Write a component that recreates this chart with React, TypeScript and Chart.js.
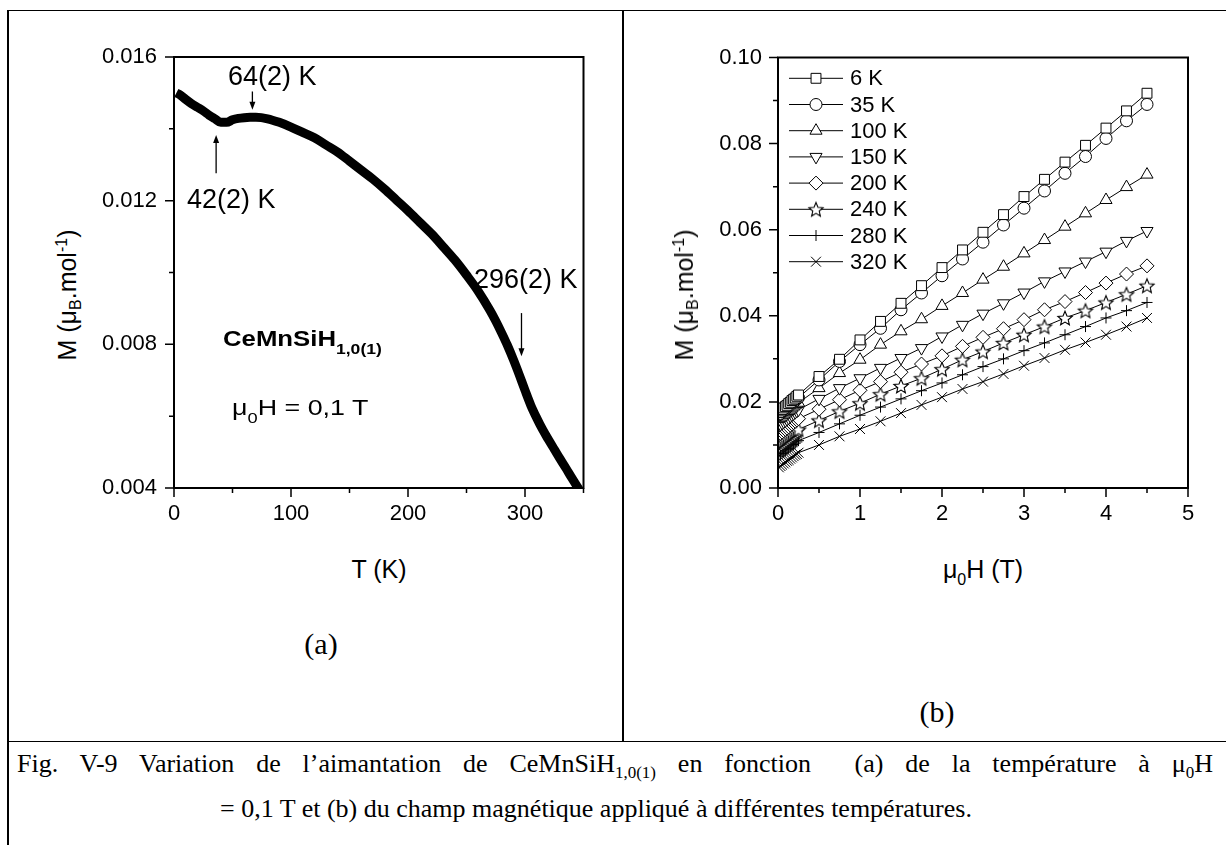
import React, { useEffect, useLayoutEffect, useRef } from 'react';
import { Chart, registerables, PointElement } from 'chart.js';

Chart.register(...registerables);

// ---------------- Panel (a): M vs T at mu0H = 0.1 T ----------------
const tempK = [2, 5, 10, 15, 20, 25, 30, 35, 40, 45, 50, 55, 60, 65, 70, 80, 90, 100, 110, 120, 130, 140, 150, 160, 170, 180, 190, 200, 210, 220, 230, 240, 250, 260, 270, 275, 280, 285, 290, 295, 300, 305, 310, 315, 320, 325, 330, 335, 340, 345, 350];
const magnetT = [0.01500, 0.01495, 0.01482, 0.01470, 0.01460, 0.01450, 0.01438, 0.01428, 0.01418, 0.01418, 0.01425, 0.01429, 0.01431, 0.01432, 0.01432, 0.01428, 0.01418, 0.01405, 0.01390, 0.01375, 0.01355, 0.01335, 0.01310, 0.01285, 0.01260, 0.01232, 0.01202, 0.01172, 0.01140, 0.01108, 0.01072, 0.01035, 0.00993, 0.00948, 0.00895, 0.00865, 0.00832, 0.00797, 0.00758, 0.00716, 0.00672, 0.00630, 0.00595, 0.00563, 0.00535, 0.00508, 0.00481, 0.00455, 0.00428, 0.00402, 0.00378];

const aXMajor = [0, 100, 200, 300];
const aXMinor = [50, 150, 250, 350];
const aYMajor = [0.004, 0.008, 0.012, 0.016];
const aYMinor = [0.006, 0.010, 0.014];

// arrows: temperature, from M, to M (tip)
const arrowT = [67, 36, 297];
const arrowFrom = [0.01504, 0.01276, 0.00887];
const arrowTo = [0.01453, 0.01383, 0.00767];

// ---------------- Panel (b): M vs mu0H at several temperatures ----------------
const fieldT = [0.01, 0.03, 0.05, 0.07, 0.09, 0.11, 0.13, 0.15, 0.17, 0.19, 0.21, 0.23, 0.25, 0.5, 0.75, 1.0, 1.25, 1.5, 1.75, 2.0, 2.25, 2.5, 2.75, 3.0, 3.25, 3.5, 3.75, 4.0, 4.25, 4.5];
const seriesLabels = ['6 K', '35 K', '100 K', '150 K', '200 K', '240 K', '280 K', '320 K'];
const m6K = [0.0175, 0.0179, 0.0182, 0.0186, 0.0189, 0.0192, 0.0196, 0.0199, 0.0203, 0.0206, 0.0209, 0.0213, 0.0216, 0.0259, 0.0299, 0.0344, 0.0387, 0.0429, 0.0470, 0.0512, 0.0553, 0.0594, 0.0635, 0.0677, 0.0717, 0.0757, 0.0796, 0.0836, 0.0876, 0.0917];
const m35K = [0.0170, 0.0173, 0.0177, 0.0180, 0.0183, 0.0187, 0.0190, 0.0193, 0.0197, 0.0200, 0.0203, 0.0207, 0.0210, 0.0251, 0.0294, 0.0333, 0.0371, 0.0414, 0.0453, 0.0493, 0.0532, 0.0571, 0.0611, 0.0650, 0.0690, 0.0731, 0.0770, 0.0812, 0.0853, 0.0891];
const m100K = [0.0160, 0.0163, 0.0166, 0.0170, 0.0173, 0.0176, 0.0179, 0.0182, 0.0185, 0.0189, 0.0192, 0.0195, 0.0198, 0.0232, 0.0267, 0.0298, 0.0333, 0.0364, 0.0392, 0.0423, 0.0453, 0.0484, 0.0514, 0.0545, 0.0576, 0.0607, 0.0638, 0.0669, 0.0699, 0.0728];
const m150K = [0.0145, 0.0148, 0.0151, 0.0154, 0.0157, 0.0160, 0.0163, 0.0167, 0.0170, 0.0173, 0.0176, 0.0179, 0.0182, 0.0207, 0.0232, 0.0255, 0.0279, 0.0302, 0.0325, 0.0352, 0.0379, 0.0405, 0.0429, 0.0454, 0.0480, 0.0503, 0.0526, 0.0549, 0.0574, 0.0597];
const m200K = [0.0124, 0.0127, 0.0130, 0.0133, 0.0136, 0.0139, 0.0142, 0.0146, 0.0149, 0.0152, 0.0155, 0.0158, 0.0161, 0.0183, 0.0205, 0.0227, 0.0247, 0.0269, 0.0288, 0.0307, 0.0329, 0.0350, 0.0370, 0.0391, 0.0414, 0.0433, 0.0454, 0.0476, 0.0497, 0.0516];
const m240K = [0.0100, 0.0103, 0.0106, 0.0109, 0.0112, 0.0115, 0.0118, 0.0121, 0.0124, 0.0127, 0.0130, 0.0133, 0.0136, 0.0157, 0.0178, 0.0197, 0.0218, 0.0237, 0.0255, 0.0276, 0.0298, 0.0317, 0.0337, 0.0356, 0.0375, 0.0395, 0.0412, 0.0431, 0.0450, 0.0470];
const m280K = [0.0074, 0.0077, 0.0080, 0.0083, 0.0086, 0.0089, 0.0092, 0.0095, 0.0098, 0.0101, 0.0104, 0.0107, 0.0110, 0.0129, 0.0149, 0.0169, 0.0188, 0.0207, 0.0226, 0.0244, 0.0263, 0.0282, 0.0300, 0.0319, 0.0337, 0.0356, 0.0375, 0.0395, 0.0412, 0.0431];
const m320K = [0.0048, 0.0051, 0.0054, 0.0057, 0.0060, 0.0063, 0.0065, 0.0068, 0.0071, 0.0074, 0.0077, 0.0079, 0.0082, 0.0100, 0.0120, 0.0137, 0.0155, 0.0174, 0.0193, 0.0211, 0.0230, 0.0247, 0.0265, 0.0284, 0.0302, 0.0321, 0.0338, 0.0356, 0.0375, 0.0395];
const seriesValues = [m6K, m35K, m100K, m150K, m200K, m240K, m280K, m320K];

const bXMajor = [0, 1, 2, 3, 4, 5];
const bXMinor = [0.5, 1.5, 2.5, 3.5, 4.5];
const bYMajor = [0, 0.02, 0.04, 0.06, 0.08, 0.10];
const bYMinor = [0.01, 0.03, 0.05, 0.07, 0.09];

const SANS = '"Liberation Sans", Arial, Helvetica, sans-serif';
const SERIF = '"Liberation Serif", "Times New Roman", Times, serif';

// ---------------- plugins ----------------
const frameTicksPlugin = {
  id: 'frameTicks',
  afterDraw(chart: any, _args: any, opts: any) {
    const { ctx, chartArea: a, scales } = chart;
    const xs = scales.x;
    const ys = scales.y;
    ctx.save();
    ctx.strokeStyle = '#000';
    ctx.lineWidth = 1.5;
    ctx.beginPath();
    for (const v of opts.xMajor) { const p = xs.getPixelForValue(v); ctx.moveTo(p, a.bottom); ctx.lineTo(p, a.bottom + 9); }
    for (const v of opts.xMinor) { const p = xs.getPixelForValue(v); ctx.moveTo(p, a.bottom); ctx.lineTo(p, a.bottom + 5); }
    for (const v of opts.yMajor) { const p = ys.getPixelForValue(v); ctx.moveTo(a.left, p); ctx.lineTo(a.left - 9, p); }
    for (const v of opts.yMinor) { const p = ys.getPixelForValue(v); ctx.moveTo(a.left, p); ctx.lineTo(a.left - 5, p); }
    ctx.stroke();
    ctx.lineWidth = 2;
    ctx.strokeRect(a.left, a.top, a.right - a.left, a.bottom - a.top);
    ctx.restore();
  },
};

const arrowsPlugin = {
  id: 'arrows',
  afterDatasetsDraw(chart: any, _args: any, opts: any) {
    const { ctx, scales } = chart;
    ctx.save();
    ctx.strokeStyle = '#000';
    ctx.fillStyle = '#000';
    ctx.lineWidth = 1.3;
    opts.t.forEach((t: number, i: number) => {
      const x = scales.x.getPixelForValue(t);
      const y0 = scales.y.getPixelForValue(opts.from[i]);
      const y1 = scales.y.getPixelForValue(opts.to[i]);
      const dir = y1 > y0 ? 1 : -1;
      ctx.beginPath();
      ctx.moveTo(x, y0);
      ctx.lineTo(x, y1 - dir * 6);
      ctx.stroke();
      ctx.beginPath();
      ctx.moveTo(x, y1);
      ctx.lineTo(x - 3, y1 - dir * 8);
      ctx.lineTo(x + 3, y1 - dir * 8);
      ctx.closePath();
      ctx.fill();
    });
    ctx.restore();
  },
};

const lineLegendPlugin = {
  id: 'lineLegend',
  afterDraw(chart: any, _args: any, opts: any) {
    const { ctx, chartArea: a } = chart;
    ctx.save();
    ctx.font = `22px ${SANS}`;
    ctx.textBaseline = 'middle';
    ctx.textAlign = 'left';
    chart.data.datasets.forEach((ds: any, i: number) => {
      const y = a.top + opts.top + i * opts.spacing;
      const x0 = a.left + opts.lineStart;
      const x1 = a.left + opts.lineEnd;
      ctx.strokeStyle = '#000';
      ctx.lineWidth = 1;
      ctx.beginPath();
      ctx.moveTo(x0, y);
      ctx.lineTo(x1, y);
      ctx.stroke();
      const el: any = new PointElement({} as any);
      el.x = (x0 + x1) / 2;
      el.y = y;
      el.skip = false;
      el.options = {
        pointStyle: ds.pointStyle,
        radius: ds.pointRadius,
        rotation: ds.pointRotation || 0,
        borderWidth: 1,
        borderColor: '#000',
        backgroundColor: '#fff',
      };
      el.draw(ctx);
      ctx.fillStyle = '#000';
      ctx.fillText(ds.label, a.left + opts.textX, y + 1);
    });
    ctx.restore();
  },
};

function makeStar(r: number) {
  const c = document.createElement('canvas');
  const s = 2 * Math.ceil(r + 2);
  c.width = s;
  c.height = s;
  const g = c.getContext('2d')!;
  g.translate(s / 2, s / 2 + r * 0.1);
  g.beginPath();
  for (let k = 0; k < 10; k++) {
    const rr = k % 2 === 0 ? r : r * 0.45;
    const ang = -Math.PI / 2 + (k * Math.PI) / 5;
    g.lineTo(rr * Math.cos(ang), rr * Math.sin(ang));
  }
  g.closePath();
  g.fillStyle = '#fff';
  g.fill();
  g.strokeStyle = '#000';
  g.lineWidth = 1.1;
  g.stroke();
  return c;
}

const tickFont = { size: 22, family: SANS };
const hiddenGrid = (len: number) => ({
  display: true,
  drawOnChartArea: false,
  drawTicks: true,
  tickLength: len,
  color: 'rgba(0,0,0,0)',
});

function configA() {
  return {
    type: 'line',
    data: {
      datasets: [
        {
          data: tempK.map((t, i) => ({ x: t, y: magnetT[i] })),
          borderColor: '#000',
          borderWidth: 9,
          pointRadius: 0,
          cubicInterpolationMode: 'monotone',
          borderJoinStyle: 'round',
          fill: false,
        },
      ],
    },
    options: {
      responsive: false,
      animation: false,
      devicePixelRatio: 1,
      layout: { padding: { top: 17, right: 16.5, left: 0, bottom: 0 } },
      scales: {
        x: {
          type: 'linear', min: 0, max: 350,
          grid: hiddenGrid(13), border: { display: false },
          ticks: { stepSize: 100, includeBounds: false, padding: 0, font: tickFont, color: '#000', maxRotation: 0, autoSkip: false, callback: (v: any) => String(v) },
          afterFit: (s: any) => { s.height = 52; },
        },
        y: {
          type: 'linear', min: 0.004, max: 0.016,
          grid: hiddenGrid(17), border: { display: false },
          ticks: { stepSize: 0.004, padding: 0, font: tickFont, color: '#000', autoSkip: false, callback: (v: any) => Number(v).toFixed(3) },
          afterFit: (s: any) => { s.width = 84; },
        },
      },
      plugins: {
        legend: { display: false },
        tooltip: { enabled: false },
        frameTicks: { xMajor: aXMajor, xMinor: aXMinor, yMajor: aYMajor, yMinor: aYMinor },
        arrows: { t: arrowT, from: arrowFrom, to: arrowTo },
      },
    },
    plugins: [frameTicksPlugin, arrowsPlugin],
  };
}

function configB() {
  const star = makeStar(7.5);
  const styles: any[] = [
    { pointStyle: 'rect', pointRadius: 7 },
    { pointStyle: 'circle', pointRadius: 6 },
    { pointStyle: 'triangle', pointRadius: 7 },
    { pointStyle: 'triangle', pointRadius: 7, pointRotation: 180 },
    { pointStyle: 'rectRot', pointRadius: 7 },
    { pointStyle: star, pointRadius: 7 },
    { pointStyle: 'cross', pointRadius: 5.5 },
    { pointStyle: 'crossRot', pointRadius: 7 },
  ];
  return {
    type: 'line',
    data: {
      datasets: seriesValues.map((vals, k) => ({
        label: seriesLabels[k],
        data: fieldT.map((h, i) => ({ x: h, y: vals[i] })),
        borderColor: '#000',
        borderWidth: 1,
        pointBackgroundColor: '#fff',
        pointBorderColor: '#000',
        pointBorderWidth: 1,
        tension: 0,
        fill: false,
        ...styles[k],
      })),
    },
    options: {
      responsive: false,
      animation: false,
      devicePixelRatio: 1,
      layout: { padding: { top: 17.5, right: 22, left: 0, bottom: 0 } },
      scales: {
        x: {
          type: 'linear', min: 0, max: 5,
          grid: hiddenGrid(13), border: { display: false },
          ticks: { stepSize: 1, padding: 0, font: tickFont, color: '#000', maxRotation: 0, autoSkip: false, callback: (v: any) => String(v) },
          afterFit: (s: any) => { s.height = 52; },
        },
        y: {
          type: 'linear', min: 0, max: 0.1,
          grid: hiddenGrid(16), border: { display: false },
          ticks: { stepSize: 0.02, padding: 0, font: tickFont, color: '#000', autoSkip: false, callback: (v: any) => Number(v).toFixed(2) },
          afterFit: (s: any) => { s.width = 88; },
        },
      },
      plugins: {
        legend: { display: false },
        tooltip: { enabled: false },
        frameTicks: { xMajor: bXMajor, xMinor: bXMinor, yMajor: bYMajor, yMinor: bYMinor },
        lineLegend: { top: 20.8, spacing: 26.2, lineStart: 11, lineEnd: 65, textX: 72 },
      },
    },
    plugins: [frameTicksPlugin, lineLegendPlugin],
  };
}

function ChartCanvas({ left, top, width, height, make }: any) {
  const ref = useRef<HTMLCanvasElement>(null);
  useEffect(() => {
    const chart = new Chart(ref.current as HTMLCanvasElement, make() as any);
    return () => chart.destroy();
  }, []);
  return (
    <canvas
      ref={ref}
      width={width}
      height={height}
      style={{ position: 'absolute', left, top, width, height }}
    />
  );
}

function TextAt({ x, baseline, size, family = SANS, weight = 400, align = 'left', stretch = 1, children }: any) {
  const asc = family === SERIF ? 0.8375 : 0.8465;
  const style: React.CSSProperties = {
    position: 'absolute',
    left: x,
    top: baseline - asc * size,
    fontSize: size,
    lineHeight: `${size}px`,
    fontFamily: family,
    fontWeight: weight,
    whiteSpace: 'pre',
    color: '#000',
  };
  if (align === 'center') style.transform = 'translateX(-50%)';
  else if (stretch !== 1) { style.transform = `scaleX(${stretch})`; style.transformOrigin = 'left center'; }
  return <div style={style}>{children}</div>;
}

function Sub({ size, dy, children }: any) {
  return <span style={{ fontSize: size, position: 'relative', top: dy }}>{children}</span>;
}

function YTitle({ cx, cy }: any) {
  return (
    <div
      style={{
        position: 'absolute', left: cx, top: cy,
        transform: 'translate(-50%, -50%) rotate(-90deg)',
        fontSize: 25, lineHeight: '25px', fontFamily: SANS, whiteSpace: 'nowrap', color: '#000',
      }}
    >
      M (μ<Sub size={16} dy={5}>B</Sub>.mol<Sub size={16} dy={-9}>-1</Sub>)
    </div>
  );
}

function JustifiedLine({ x, baseline, width, size, children }: any) {
  const ref = useRef<HTMLDivElement>(null);
  useLayoutEffect(() => {
    const el = ref.current;
    if (!el) return;
    el.style.wordSpacing = '0px';
    el.style.letterSpacing = '0px';
    const natural = el.getBoundingClientRect().width;
    const spaces = ((el.textContent || '').match(/ /g) || []).length;
    const extra = width - natural;
    if (extra >= 0 && spaces > 0) el.style.wordSpacing = `${extra / spaces}px`;
    else if (extra < 0) {
      const chars = (el.textContent || '').length;
      el.style.letterSpacing = `${extra / chars}px`;
    }
  }, []);
  return (
    <div
      ref={ref}
      style={{
        position: 'absolute', left: x, top: baseline - 0.8375 * size,
        fontSize: size, lineHeight: `${size}px`, fontFamily: SERIF, whiteSpace: 'pre', color: '#000',
      }}
    >
      {children}
    </div>
  );
}

function Line({ x, y, w, h }: any) {
  return <div style={{ position: 'absolute', left: x, top: y, width: w, height: h, background: '#000' }} />;
}

export default function App() {
  return (
    <div style={{ position: 'absolute', left: 0, top: 0, width: 1226, height: 845, overflow: 'hidden', background: '#fff' }}>
      <style>{'html,body{margin:0;padding:0;overflow:hidden;background:#fff;}'}</style>

      {/* table borders */}
      <Line x={7} y={9.5} w={1219} h={1.5} />
      <Line x={7} y={9.5} w={1.5} h={836} />
      <Line x={622} y={9.5} w={1.5} h={732} />
      <Line x={7} y={740.5} w={1219} h={1.5} />

      {/* panel (a) */}
      <ChartCanvas left={90} top={40} width={510} height={500} make={configA} />
      <TextAt x={228} baseline={86} size={27}>64(2) K</TextAt>
      <TextAt x={187} baseline={209} size={27}>42(2) K</TextAt>
      <TextAt x={474} baseline={289} size={27}>296(2) K</TextAt>
      <TextAt x={223} baseline={347} size={22} weight={700} stretch={1.17}>
        CeMnSiH<Sub size={15} dy={8}>1,0(1)</Sub>
      </TextAt>
      <TextAt x={232} baseline={416} size={22} stretch={1.22}>
        μ<Sub size={15} dy={8}>0</Sub>H = 0,1 T
      </TextAt>
      <YTitle cx={69} cy={295} />
      <TextAt x={379} baseline={578} size={25} align="center">T (K)</TextAt>
      <TextAt x={321} baseline={654} size={30} family={SERIF} align="center">(a)</TextAt>

      {/* panel (b) */}
      <ChartCanvas left={690} top={40} width={520} height={500} make={configB} />
      <YTitle cx={686} cy={295} />
      <TextAt x={983} baseline={578} size={25} align="center">
        μ<Sub size={16} dy={7}>0</Sub>H (T)
      </TextAt>
      <TextAt x={937} baseline={722} size={30} family={SERIF} align="center">(b)</TextAt>

      {/* caption */}
      <JustifiedLine x={17} baseline={773} width={1196} size={26}>
        Fig. V-9 Variation de l’aimantation de CeMnSiH<Sub size={17} dy={6}>1,0(1)</Sub> en fonction  (a) de la température à μ<Sub size={17} dy={6}>0</Sub>H
      </JustifiedLine>
      <TextAt x={596} baseline={818} size={26} family={SERIF} align="center">
        = 0,1 T et (b) du champ magnétique appliqué à différentes températures.
      </TextAt>
    </div>
  );
}
